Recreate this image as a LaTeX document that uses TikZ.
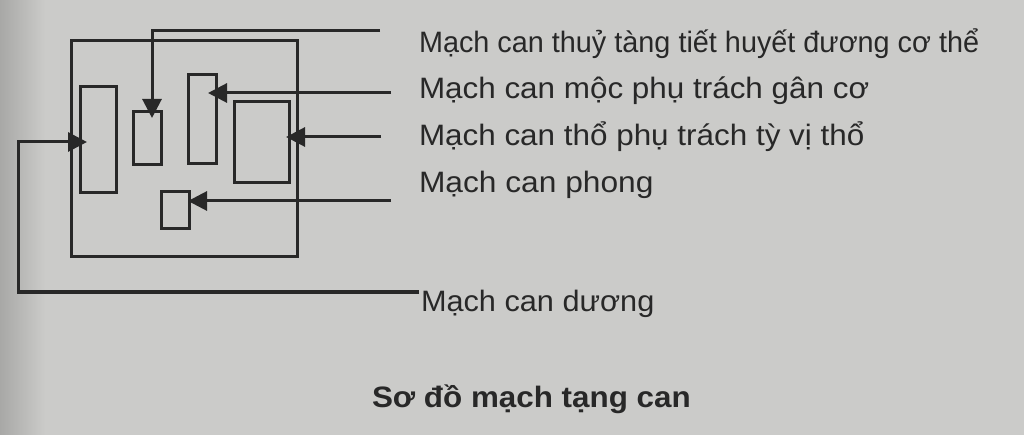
\documentclass[tikz,border=0pt]{standalone}
\usepackage{fontspec}
\setmainfont{Liberation Sans}
\usetikzlibrary{arrows.meta}
\definecolor{paper}{RGB}{203,203,201}
\definecolor{paperdark}{RGB}{168,168,166}
\definecolor{ink}{RGB}{40,40,40}
\begin{document}
\begin{tikzpicture}[x=1pt,y=-1pt,
  every node/.style={inner sep=0pt,outer sep=0pt},
  boxnode/.style={draw=ink,line width=3pt,rectangle},
  conn/.style={draw=ink,line width=3pt,-{Triangle[length=19pt,width=19pt]}},
  lbl/.style={anchor=base west,text=ink,font=\fontsize{29.5}{35}\selectfont},
  captext/.style={anchor=base west,text=ink,font=\bfseries\fontsize{29.5}{35}\selectfont}]
% paper background
\fill[paper] (0,0) rectangle (1024,435);
\shade[left color=paperdark,right color=paper] (0,0) rectangle (45,435);
\useasboundingbox (0,0) rectangle (1024,435);
% frame loop
\node[boxnode,minimum width=226pt,minimum height=216pt] (frame) at (184,149) {};
% boxes
\node[boxnode,minimum width=36pt,minimum height=106pt] (b1) at (98,140) {};
\node[boxnode,minimum width=28pt,minimum height=53pt] (b2) at (147,138.5) {};
\node[boxnode,minimum width=28pt,minimum height=89pt] (b3) at (202,119.5) {};
\node[boxnode,minimum width=55pt,minimum height=81pt] (b4) at (261.5,142.5) {};
\node[boxnode,minimum width=28pt,minimum height=37pt] (b5) at (175,210.5) {};
% labels
\node[lbl] (l1) at (419,53) {\scalebox{0.977}[1]{Mạch can thuỷ tàng tiết huyết đương cơ thể}};
\node[lbl] (l2) at (419,99) {\scalebox{1.065}[1]{Mạch can mộc phụ trách gân cơ}};
\node[lbl] (l3) at (419,146) {\scalebox{1.065}[1]{Mạch can thổ phụ trách tỳ vị thổ}};
\node[lbl] (l4) at (419,193) {\scalebox{1.075}[1]{Mạch can phong}};
\node[lbl] (l5) at (421,312) {\scalebox{1.04}[1]{Mạch can dương}};
\node[captext] (caption) at (372,407) {\scalebox{1.064}[1]{Sơ đồ mạch tạng can}};
% connector ends
\coordinate (e1) at (380,31);
\coordinate (e2) at (391,93);
\coordinate (e3) at (381,137);
\coordinate (e4) at (391,201);
\coordinate (e5) at (419,292);
\coordinate (c5) at (18,292);
% connectors
\draw[conn,shorten >=-6pt] (e1) -| ([xshift=5pt]b2.north);
\draw[conn,shorten >=-8pt] (e2) -- (e2 -| b3.east);
\draw[conn,shorten >=-3pt] (e3) -- (e3 -| b4.east);
\draw[conn,shorten >=-1pt] (e4) -- (e4 -| b5.east);
\draw[conn,shorten >=-7pt] (e5) -- (c5) |- ([yshift=-2pt]b1.west);
\end{tikzpicture}
\end{document}
